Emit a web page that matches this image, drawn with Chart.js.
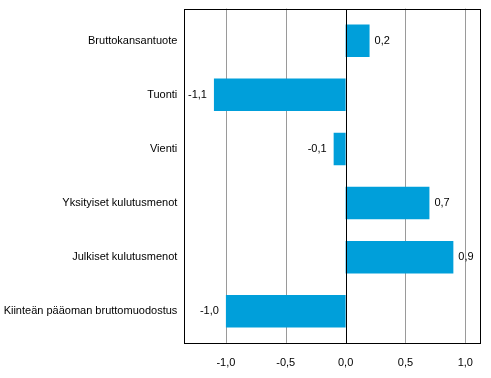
<!DOCTYPE html>
<html><head><meta charset="utf-8">
<script src="https://cdn.jsdelivr.net/npm/chart.js@4/dist/chart.umd.min.js"></script>
<style>html,body{margin:0;padding:0;background:#fff}#w{width:491px;height:378px}</style>
</head><body><div id="w"><canvas id="c" width="491" height="378"></canvas></div>
<script>
const categories = ["Bruttokansantuote","Tuonti","Vienti","Yksityiset kulutusmenot","Julkiset kulutusmenot","Kiinteän pääoman bruttomuodostus"];
const values = [0.2, -1.1, -0.1, 0.7, 0.9, -1.0];
const xTicks = [-1.0, -0.5, 0.0, 0.5, 1.0];
const fmt = v => v.toFixed(1).replace('.', ',');
const FONT = {family: 'Liberation Sans, Arial, sans-serif', size: 11};

const frame = {
  id: 'frame',
  beforeDatasetsDraw(chart) {
    const {ctx, chartArea: a, scales: {x}} = chart;
    const top = a.top - 5, bottom = a.bottom + 4.5;
    ctx.save();
    ctx.lineWidth = 1;
    ctx.strokeStyle = '#9a9a9a';
    xTicks.forEach(v => {
      if (v === 0) return;
      const px = Math.round(x.getPixelForValue(v)) + 0.5;
      ctx.beginPath(); ctx.moveTo(px, top); ctx.lineTo(px, bottom); ctx.stroke();
    });
    ctx.restore();
  },
  afterDatasetsDraw(chart) {
    const {ctx, chartArea: a, scales: {x}} = chart;
    const top = Math.round(a.top - 5) + 0.5, bottom = Math.round(a.bottom + 4.5) + 0.5;
    const left = Math.round(a.left) + 0.5, right = Math.round(a.right) + 0.5;
    ctx.save();
    ctx.strokeStyle = '#000';
    ctx.lineWidth = 1;
    ctx.strokeRect(left, top, right - left, bottom - top);
    const zx = Math.round(x.getPixelForValue(0)) + 0.5;
    ctx.beginPath(); ctx.moveTo(zx, top); ctx.lineTo(zx, bottom); ctx.stroke();
    // value labels
    ctx.fillStyle = '#000';
    ctx.font = '11px "Liberation Sans", Arial, sans-serif';
    ctx.textBaseline = 'middle';
    const meta = chart.getDatasetMeta(0);
    meta.data.forEach((bar, i) => {
      const v = values[i];
      if (v >= 0) { ctx.textAlign = 'left'; ctx.fillText(fmt(v), bar.x + 5, bar.y); }
      else { ctx.textAlign = 'right'; ctx.fillText(fmt(v), bar.x - 7, bar.y); }
    });
    ctx.restore();
  }
};

new Chart(document.getElementById('c'), {
  type: 'bar',
  data: {labels: categories, datasets: [{data: values, backgroundColor: '#009fda', borderWidth: 0, barPercentage: 0.6, categoryPercentage: 1}]},
  options: {
    indexAxis: 'y',
    responsive: false,
    animation: false,
    layout: {padding: {top: 13, right: 10.7, left: 0, bottom: 0}},
    plugins: {legend: {display: false}, tooltip: {enabled: false}},
    scales: {
      x: {
        type: 'linear', min: -1.3475, max: 1.119,
        grid: {display: false, drawTicks: false},
        border: {display: false},
        afterFit(s) { s.height = 39.6; },
        afterBuildTicks(s) { s.ticks = xTicks.map(v => ({value: v})); },
        ticks: {font: FONT, color: '#000', padding: 17.5, callback: v => fmt(v)}
      },
      y: {
        type: 'category',
        grid: {display: false, drawTicks: false},
        border: {display: false},
        afterFit(s) { s.width = 184.3; },
        ticks: {font: FONT, color: '#000', padding: 7}
      }
    }
  },
  plugins: [frame]
});
</script></body></html>
